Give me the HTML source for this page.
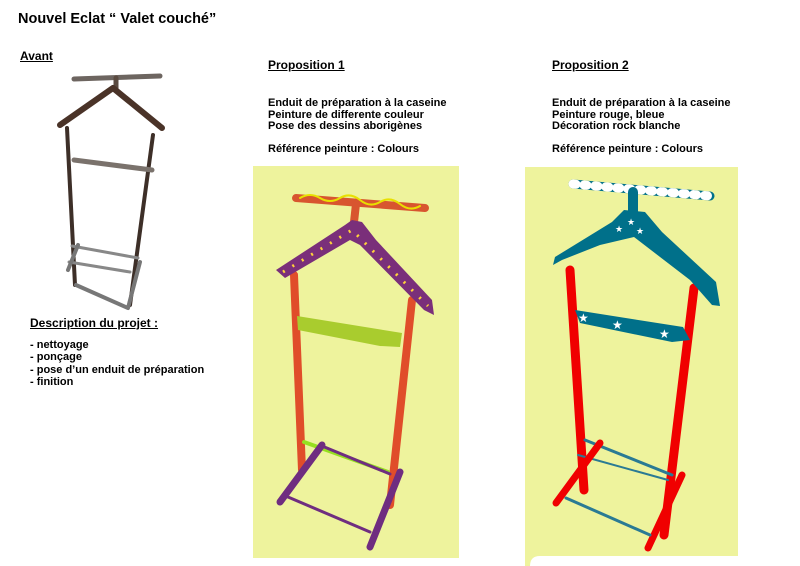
<!DOCTYPE html>
<html><head><meta charset="utf-8"><style>
body{margin:0;width:800px;height:566px;background:#fff;position:relative;overflow:hidden;font-family:"Liberation Sans",Arial,sans-serif;color:#000}
.t{position:absolute;font-weight:bold;white-space:nowrap}
.s{font-size:11px;line-height:11.6px}
u{text-decoration:underline}
svg{position:absolute;left:0;top:0}
</style></head><body>
<svg width="800" height="566">
<!-- Avant photo -->
<g stroke-linecap="round" fill="none">
<line x1="74" y1="79" x2="160" y2="76" stroke="#6d6560" stroke-width="5"/>
<line x1="116" y1="78" x2="116" y2="90" stroke="#5a4a40" stroke-width="5"/>
<path d="M60 125 L113 88 L162 128" stroke="#4a3328" stroke-width="6" stroke-linejoin="round"/>
<line x1="67" y1="128" x2="75" y2="285" stroke="#3d2f28" stroke-width="4"/>
<line x1="153" y1="135" x2="130" y2="305" stroke="#3d2f28" stroke-width="4"/>
<path d="M74 160 L152 170" stroke="#7a726c" stroke-width="5"/>
<path d="M72 246 L138 258 M69 262 L130 272" stroke="#888" stroke-width="3"/>
<path d="M68 270 L78 245 M76 285 L128 308 M128 308 L140 262" stroke="#777" stroke-width="4"/>
</g>
<!-- Panel 1 -->
<rect x="253" y="166" width="206" height="392" fill="#eef39d"/>
<g stroke-linecap="round" fill="none">
<line x1="296" y1="198" x2="425" y2="208" stroke="#d8552f" stroke-width="8"/>
<path d="M300 198 q10 -6 20 0 t20 0 t20 2 t20 2 t20 2 t20 2" stroke="#e8e000" stroke-width="2"/>
<line x1="356" y1="204" x2="354" y2="222" stroke="#d8552f" stroke-width="8"/>
<line x1="294" y1="275" x2="302" y2="470" stroke="#e04d2a" stroke-width="8"/>
<line x1="412" y1="300" x2="390" y2="505" stroke="#e04d2a" stroke-width="8"/>
</g>
<polygon points="276,270 345,225 352,220 362,222 376,240 432,300 434,315 424,310 360,245 350,240 285,278" fill="#7a2f7a"/>
<path d="M283 272 L352 230 L428 306" stroke="#ffd23a" stroke-width="3" stroke-dasharray="2 9" fill="none"/>
<g stroke-linecap="round" fill="none">
<polygon points="297,316 402,333 400,347 380,346 298,330" fill="#a9cc2e" stroke="none"/>
<line x1="304" y1="442" x2="388" y2="472" stroke="#96e020" stroke-width="4"/>
<line x1="322" y1="445" x2="280" y2="502" stroke="#6f2d80" stroke-width="7"/>
<line x1="400" y1="472" x2="370" y2="547" stroke="#6f2d80" stroke-width="7"/>
<line x1="322" y1="446" x2="390" y2="474" stroke="#6f2d80" stroke-width="3"/>
<line x1="288" y1="497" x2="370" y2="532" stroke="#6f2d80" stroke-width="3"/>
</g>
<!-- Panel 2 -->
<path d="M525 167 H738 V556 H540 Q530 556 530 566 H525 Z" fill="#eef39d"/>
<g stroke-linecap="round" fill="none">
<line x1="573" y1="184" x2="710" y2="196" stroke="#00708a" stroke-width="9"/>
<line x1="573" y1="184" x2="710" y2="196" stroke="#fff" stroke-width="9" stroke-dasharray="3 8"/>
<line x1="633" y1="192" x2="633" y2="212" stroke="#00708a" stroke-width="10"/>
<line x1="570" y1="270" x2="584" y2="490" stroke="#f00000" stroke-width="9"/>
<line x1="694" y1="288" x2="664" y2="535" stroke="#f00000" stroke-width="9"/>
</g>
<polygon points="553,265 555,257 612,222 624,210 645,212 662,232 716,282 720,306 712,305 690,280 634,237 600,245 562,260" fill="#00708a"/>
<polygon points="575,310 683,327 690,340 672,342 580,323" fill="#00708a"/>
<g stroke-linecap="round" fill="none">
<line x1="585" y1="440" x2="672" y2="475" stroke="#2a7a94" stroke-width="3"/>
<line x1="578" y1="455" x2="668" y2="480" stroke="#2a7a94" stroke-width="2"/>
<line x1="600" y1="443" x2="556" y2="503" stroke="#f00000" stroke-width="7"/>
<line x1="682" y1="475" x2="648" y2="548" stroke="#f00000" stroke-width="7"/>
<line x1="566" y1="498" x2="650" y2="535" stroke="#2a7a94" stroke-width="3"/>
</g>
<g fill="#fff" font-size="12" font-family="DejaVu Sans">
<text x="578" y="322">★</text><text x="612" y="329">★</text><text x="659" y="338">★</text>
<text x="627" y="225" font-size="9">★</text><text x="615" y="232" font-size="9">★</text><text x="636" y="234" font-size="9">★</text>
</g>
</svg>
<div class="t" style="left:18px;top:11px;font-size:14.5px">Nouvel Eclat “ Valet couché”</div>
<div class="t" style="left:20px;top:49px;font-size:12px"><u>Avant</u></div>
<div class="t" style="left:268px;top:58px;font-size:12px"><u>Proposition 1</u></div>
<div class="t" style="left:552px;top:58px;font-size:12px"><u>Proposition 2</u></div>
<div class="t s" style="left:268px;top:98px">Enduit de préparation à la caseine<br>Peinture de differente couleur<br>Pose des dessins aborigènes<br><br>Référence peinture : Colours</div>
<div class="t s" style="left:552px;top:98px">Enduit de préparation à la caseine<br>Peinture rouge, bleue<br>Décoration rock blanche<br><br>Référence peinture : Colours</div>
<div class="t" style="left:30px;top:316px;font-size:12px"><u>Description du projet :</u></div>
<div class="t s" style="left:30px;top:339px;line-height:12.3px">- nettoyage<br>- ponçage<br>- pose d’un enduit de préparation<br>- finition</div>
</body></html>
